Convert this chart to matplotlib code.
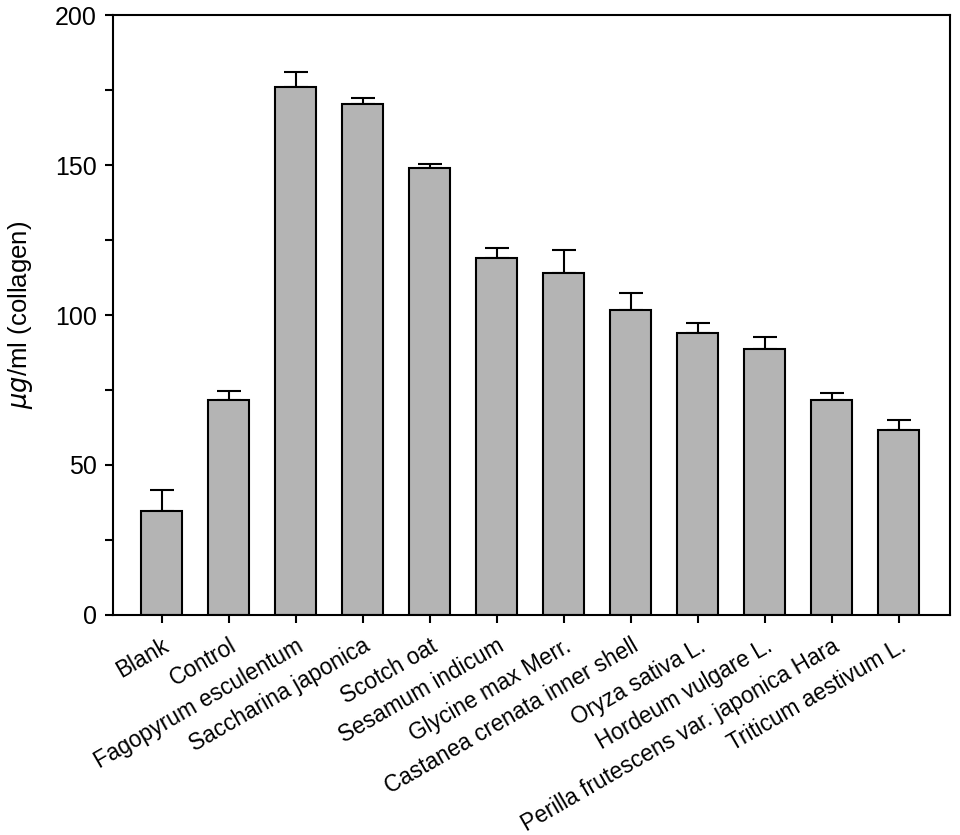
import matplotlib.pyplot as plt
import numpy as np

plt.rcParams['font.family'] = ['Liberation Sans', 'DejaVu Sans']

samples = ["Blank", "Control", "Fagopyrum esculentum", "Saccharina japonica",
           "Scotch oat", "Sesamum indicum", "Glycine max Merr.",
           "Castanea crenata inner shell", "Oryza sativa L.", "Hordeum vulgare L.",
           "Perilla frutescens var. japonica Hara", "Triticum aestivum L."]
collagen = [34.7, 71.7, 176.1, 170.2, 149.1, 118.9, 113.9, 101.7, 93.9, 88.7, 71.7, 61.7]
errors = [7.1, 3.1, 5.0, 2.2, 1.2, 3.4, 7.9, 5.5, 3.5, 4.1, 2.4, 3.3]

fig = plt.figure(figsize=(9.6, 8.35), dpi=100)
ax = fig.add_axes([0.118, 0.2635, 0.872, 0.7185])

x = np.arange(len(samples))
ax.bar(x, collagen, width=0.61, color='#b4b4b4', edgecolor='black', linewidth=1.5, zorder=2)
ax.errorbar(x, collagen, yerr=[np.zeros(len(errors)), errors], fmt='none',
            ecolor='black', elinewidth=1.5, capsize=8.5, capthick=1.5, zorder=1)

ax.set_xlim(-0.72, len(samples) - 1 + 0.77)
ax.set_ylim(0, 200)
ax.set_yticks([0, 50, 100, 150, 200])
ax.set_yticks([25, 75, 125, 175], minor=True)
ax.set_xticks(x)
ax.set_xticklabels(samples, rotation=30, ha='right', rotation_mode='anchor', fontsize=16.3)

for s in ax.spines.values():
    s.set_linewidth(1.5)
ax.tick_params(axis='both', which='both', direction='out', width=1.5, length=6)
ax.tick_params(axis='y', labelsize=18, pad=6)
ax.tick_params(axis='x', pad=8)

ax.set_ylabel(r"$\mu g$/ml (collagen)", fontsize=18.5, labelpad=14)

fig.savefig("out.png", dpi=100)
